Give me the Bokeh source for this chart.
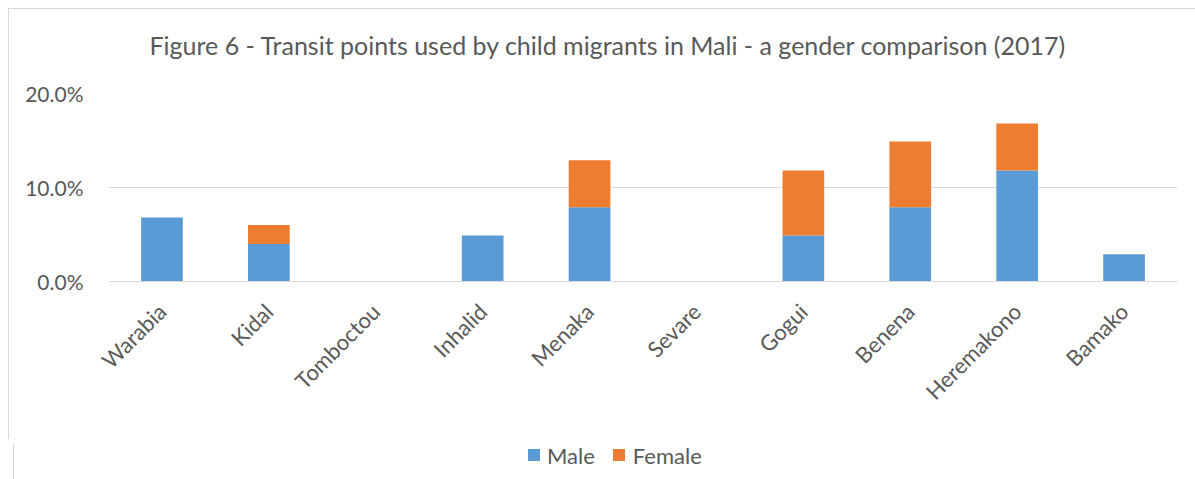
import math
from bokeh.plotting import figure
from bokeh.layouts import column
from bokeh.models import FactorRange, Range1d, NumeralTickFormatter, FixedTicker, Title, Div
from bokeh.embed import file_html
from bokeh.resources import INLINE

categories = ["Warabia", "Kidal", "Tomboctou", "Inhalid", "Menaka", "Sevare", "Gogui", "Benena", "Heremakono", "Bamako"]
male = [0.068, 0.040, 0.0, 0.049, 0.079, 0.0, 0.049, 0.079, 0.118, 0.029]
female = [0.0, 0.020, 0.0, 0.0, 0.050, 0.0, 0.069, 0.070, 0.050, 0.0]
series = ["Male", "Female"]
colors = ["#5B9BD5", "#ED7D31"]
y_ticks = [0.0, 0.1, 0.2]

FONT = "Lato"
TXT = "#595959"

p = figure(x_range=FactorRange(*categories, range_padding=0), y_range=Range1d(0, 0.2),
           width=1187, height=430, frame_width=1068, frame_height=187,
           output_backend="svg", toolbar_location=None,
           min_border_left=99, min_border_right=20, min_border_top=84, min_border_bottom=159,
           title="Figure 6 - Transit points used by child migrants in Mali - a gender  comparison (2017)")
p.styles = {"border-left": "1px solid #d9d9d9", "border-top": "1px solid #d9d9d9"}

src = dict(cat=categories, Male=male, Female=female)
rs = p.vbar_stack(series, x="cat", width=0.39, color=colors, line_color=None, source=src)

p.title.text_font = FONT
p.title.text_font_size = "25px"
p.title.text_font_style = "normal"
p.title.text_color = TXT
p.title.align = "left"
p.title.offset = 41

# spacer between title and frame
p.add_layout(Title(text=" ", text_font_size="16px"), "above")

p.outline_line_color = None
p.xgrid.grid_line_color = None
p.ygrid.grid_line_color = "#D9D9D9"
p.ygrid.grid_line_width = 1

p.yaxis.ticker = FixedTicker(ticks=y_ticks)
p.yaxis.formatter = NumeralTickFormatter(format="0.0%")
p.yaxis.axis_line_color = None
p.yaxis.major_tick_line_color = None
p.yaxis.minor_tick_line_color = None
p.yaxis.major_label_text_font = FONT
p.yaxis.major_label_text_font_size = "21px"
p.yaxis.major_label_text_color = TXT
p.yaxis.major_label_standoff = 19

p.xaxis.axis_line_color = "#D9D9D9"
p.xaxis.major_tick_line_color = None
p.xaxis.minor_tick_line_color = None
p.xaxis.major_label_orientation = math.pi / 4
p.xaxis.major_label_text_font = FONT
p.xaxis.major_label_text_font_size = "22px"
p.xaxis.major_label_text_color = TXT
p.xaxis.major_label_standoff = 20

# legend (HTML, built from the series names and colours)
sq = ("display:inline-block;width:12px;height:12px;background:{c};vertical-align:middle;"
      "position:relative;top:-3px;margin-left:{ml}px;margin-right:{mr}px")
items = []
for i, (s, c) in enumerate(zip(series, colors)):
    items.append('<span style="%s"></span><span>%s</span>' % (sq.format(c=c, ml=0 if i == 0 else 18, mr=7 if i == 0 else 8), s))
legend_html = ('<div style="padding-left:514px;font-family:Lato;font-size:22px;line-height:24px;'
               'color:%s;white-space:nowrap">%s</div>' % (TXT, "".join(items)))
legend_div = Div(text=legend_html, width=1187, height=40,
                 styles={"border-left": "1px solid #d9d9d9"})

layout = column(p, legend_div, spacing=0)
layout.styles = {"margin-left": "8px", "margin-top": "8px"}

open("out.html", "w").write(file_html(layout, INLINE))
